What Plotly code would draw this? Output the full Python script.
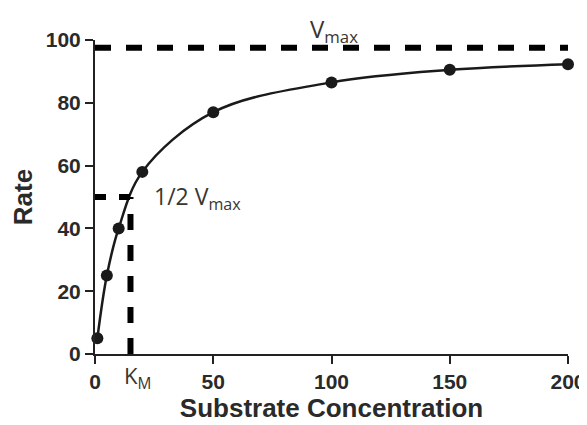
import plotly.graph_objects as go

substrate = [1, 5, 10, 20, 50, 100, 150, 200]
rate = [5, 25, 40, 58, 77, 86.5, 90.5, 92.3]
vmax = 97.5
half_vmax = 50
km = 15
x_ticks = [0, 50, 100, 150, 200]
y_ticks = [0, 20, 40, 60, 80, 100]

axis_font = dict(family="Liberation Sans, Arial, sans-serif", size=21, color="#2a2a2a", weight="bold")
title_font = dict(family="Liberation Sans, Arial, sans-serif", size=26, color="#2a2a2a", weight="bold")
ann_font = dict(family="Open Sans, Noto Sans, sans-serif", size=24, color="#3a3530")

# page body has an 8px offset; plot area spans x 95..568, y 40..354 on screen
fig = go.Figure()
fig.add_trace(go.Scatter(
    x=substrate, y=rate, mode="lines+markers",
    line=dict(color="#1a1a1a", width=2.5, shape="spline", smoothing=1.0),
    marker=dict(color="#1a1a1a", size=12),
    cliponaxis=False, showlegend=False,
))

dash = "16px,15px"
fig.add_shape(type="line", x0=0, x1=200, y0=vmax, y1=vmax,
              line=dict(color="black", width=6, dash=dash), layer="above")
fig.add_shape(type="line", x0=0, x1=km, y0=half_vmax, y1=half_vmax,
              line=dict(color="black", width=6, dash="11px,13px"), layer="above")
fig.add_shape(type="line", x0=km, x1=km, y0=0, y1=half_vmax,
              line=dict(color="black", width=6, dash=dash), layer="above")

fig.add_annotation(x=101, y=(354 - 30) / 314, xref="x", yref="paper", text="V<sub>max</sub>",
                   showarrow=False, font=ann_font, xanchor="center", yanchor="middle")
fig.add_annotation(x=24, y=half_vmax, xref="x", yref="y", text="1/2 V<sub>max</sub>",
                   showarrow=False, font=dict(ann_font, size=23), xanchor="left", yanchor="middle")
fig.add_annotation(x=km + 3, y=(354 - 377) / 314, xref="x", yref="paper", text="K<sub>M</sub>",
                   showarrow=False, font=dict(ann_font, size=22), xanchor="center", yanchor="middle")

fig.update_xaxes(
    range=[0, 200], tickvals=x_ticks, showline=True, linecolor="#222", linewidth=2,
    ticks="outside", ticklen=8, tickwidth=2, tickcolor="#222", tickfont=axis_font,
    showgrid=False, zeroline=False, automargin=False, ticklabeloverflow="allow",
    title=dict(text="Substrate Concentration", font=title_font, standoff=4),
)
fig.update_yaxes(
    range=[0, 100], tickvals=y_ticks, showline=True, linecolor="#222", linewidth=2,
    ticks="outside", ticklen=8, tickwidth=2, tickcolor="#222", tickfont=axis_font,
    showgrid=False, zeroline=False, automargin=False,
    title=dict(text="Rate", font=title_font, standoff=8),
)
fig.update_layout(
    width=579, height=417,
    margin=dict(l=87, r=19, t=32, b=71),
    plot_bgcolor="white", paper_bgcolor="white",
)
fig.write_html("out.html")
